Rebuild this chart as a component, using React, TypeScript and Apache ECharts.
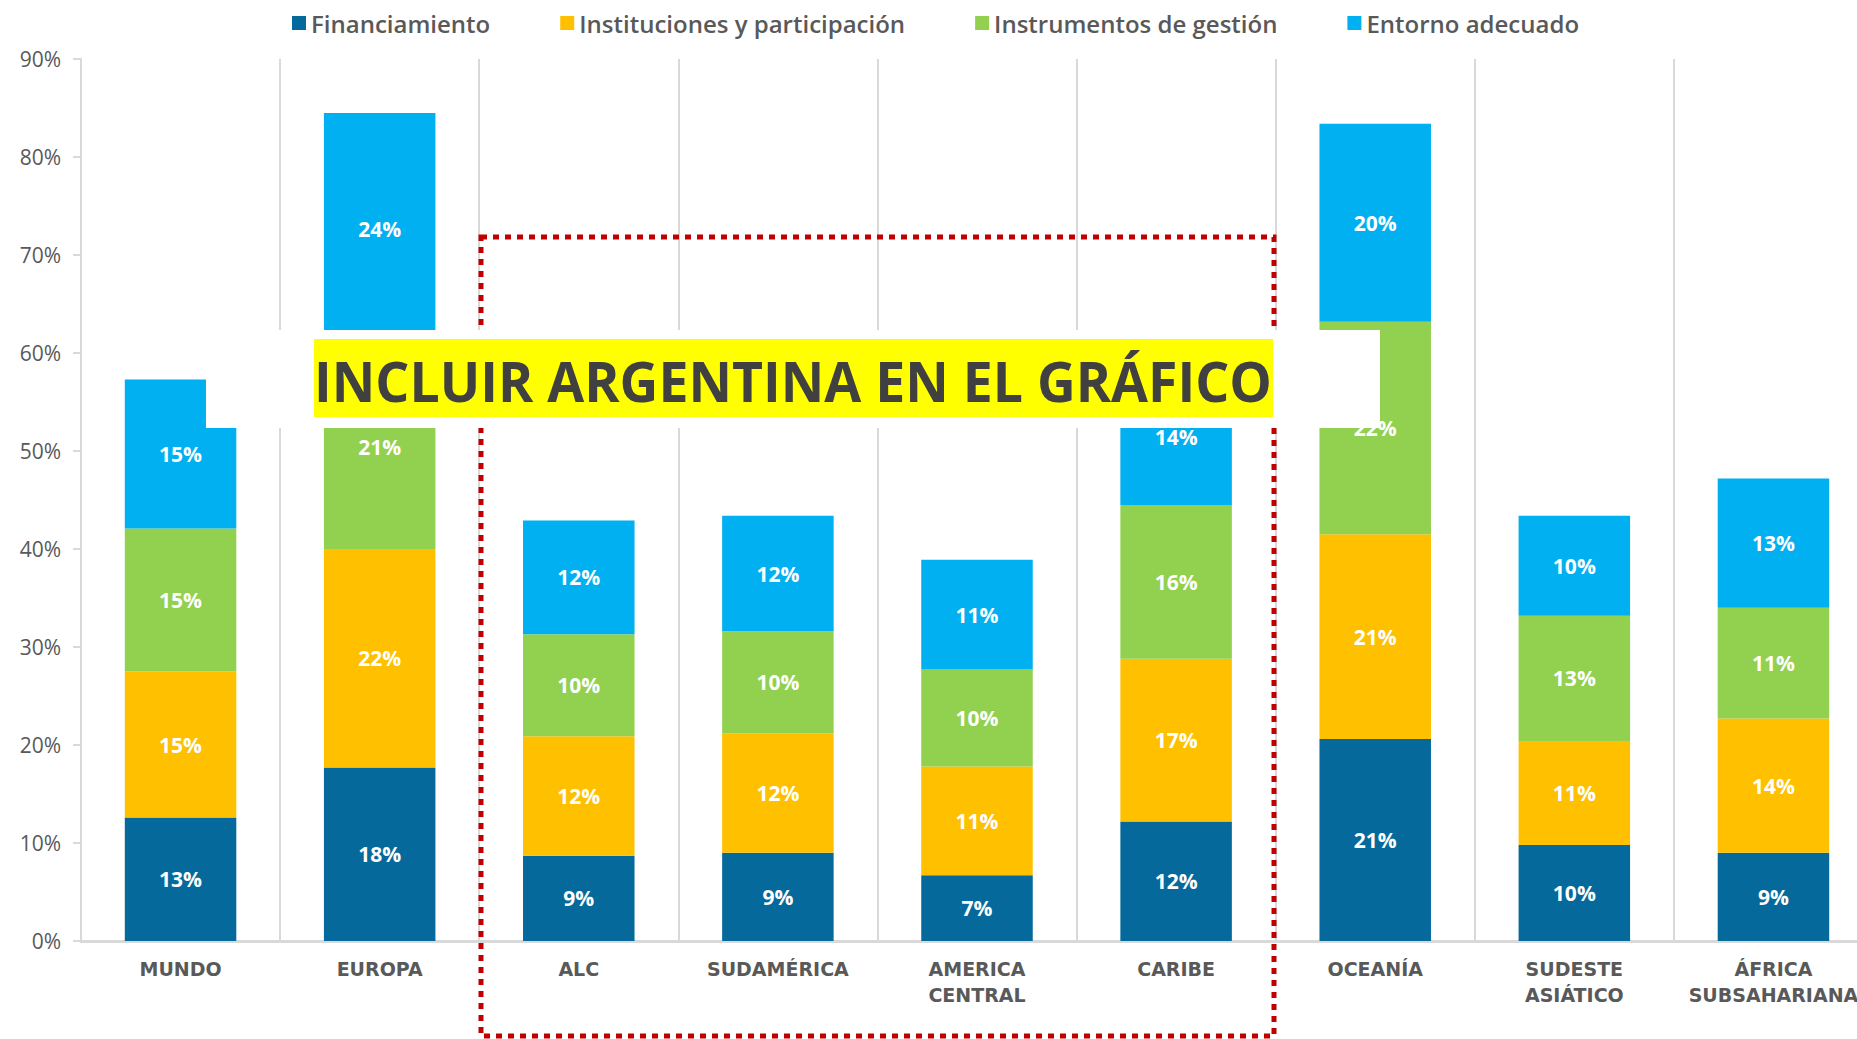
import React, { useEffect, useRef } from "react";
import * as echarts from "echarts";

const categories = [
  "MUNDO",
  "EUROPA",
  "ALC",
  "SUDAMÉRICA",
  "AMERICA CENTRAL",
  "CARIBE",
  "OCEANÍA",
  "SUDESTE ASIÁTICO",
  "ÁFRICA SUBSAHARIANA",
];
const financiamiento = [12.6, 17.7, 8.7, 9.0, 6.7, 12.2, 20.6, 9.8, 9.0];
const instituciones = [14.9, 22.3, 12.2, 12.2, 11.1, 16.6, 20.9, 10.6, 13.7];
const instrumentos = [14.6, 20.9, 10.4, 10.4, 9.9, 15.7, 21.7, 12.8, 11.3];
const entorno = [15.2, 23.6, 11.6, 11.8, 11.2, 13.8, 20.2, 10.2, 13.2];

const seriesNames = [
  "Financiamiento",
  "Instituciones y participación",
  "Instrumentos de gestión",
  "Entorno adecuado",
];
const seriesColors = ["#05699C", "#FFC000", "#92D050", "#00B0F0"];
const seriesData = [financiamiento, instituciones, instrumentos, entorno];

const yMin = 0;
const yMax = 90;
const yInterval = 10;

const bannerText = "INCLUIR ARGENTINA EN EL GRÁFICO";

export default function App() {
  const ref = useRef<HTMLDivElement>(null);

  useEffect(() => {
    document.body.style.margin = "0";
    if (!ref.current) return;
    const chart = echarts.init(ref.current, null, { renderer: "svg" });
    const option = {
      animation: false,
      backgroundColor: "#ffffff",
      legend: {
        data: seriesNames,
        left: 287,
        top: 6,
        icon: "rect",
        itemWidth: 14,
        itemHeight: 14,
        itemGap: 70,
        textStyle: {
          color: "#595959",
          fontSize: 24,
          fontWeight: 600,
          fontFamily: "'Open Sans'",
        },
      },
      grid: {
        left: 81,
        top: 59,
        bottom: 98,
        width: 1792,
        outerBoundsMode: "none",
        containLabel: false,
      },
      xAxis: {
        type: "category",
        data: categories,
        axisLine: { show: true, lineStyle: { color: "#D9D9D9", width: 3 } },
        axisTick: { show: false },
        splitLine: { show: true, lineStyle: { color: "#D9D9D9", width: 2 } },
        axisLabel: {
          interval: 0,
          margin: 15,
          color: "#595959",
          fontFamily: "'DejaVu Sans'",
          fontWeight: "bold",
          fontSize: 19,
          lineHeight: 26,
          formatter: (v: string) => v.replace(" ", "\n"),
        },
      },
      yAxis: {
        type: "value",
        min: yMin,
        max: yMax,
        interval: yInterval,
        axisLine: { show: true, lineStyle: { color: "#D9D9D9", width: 2 } },
        axisTick: { show: true, length: 8, lineStyle: { color: "#D9D9D9", width: 2 } },
        splitLine: { show: false },
        axisLabel: {
          margin: 20,
          color: "#595959",
          fontFamily: "'Open Sans'",
          fontSize: 21,
          formatter: "{value}%",
        },
      },
      series: seriesNames.map((name, i) => ({
        name,
        type: "bar",
        stack: "total",
        barWidth: "56%",
        data: seriesData[i],
        itemStyle: { color: seriesColors[i] },
        label: {
          show: true,
          position: "inside",
          color: "#ffffff",
          fontFamily: "'Open Sans'",
          fontWeight: "bold",
          fontSize: 21,
          formatter: (p: any) => Math.round(p.value) + "%",
        },
      })),
      graphic: [
        {
          type: "rect",
          silent: true,
          z: 100,
          shape: { x: 481, y: 237, width: 793, height: 799 },
          style: { fill: "none", stroke: "#C00000", lineWidth: 5, lineDash: [6, 6] },
        },
        {
          type: "rect",
          silent: true,
          z: 101,
          shape: { x: 206, y: 330, width: 1174, height: 98 },
          style: { fill: "#ffffff" },
        },
        {
          type: "rect",
          silent: true,
          z: 102,
          shape: { x: 314, y: 339, width: 959, height: 78 },
          style: { fill: "#FFFF00" },
        },
        {
          type: "text",
          silent: true,
          z: 103,
          x: 793,
          y: 380,
          scaleX: 0.957,
          style: {
            text: bannerText,
            fontFamily: "'Open Sans'",
            fontWeight: "bold",
            fontSize: 56,
            fill: "#404040",
            align: "center",
            verticalAlign: "middle",
          },
        },
      ],
    };
    chart.setOption(option as any);
    return () => chart.dispose();
  }, []);

  return <div ref={ref} style={{ width: 1857, height: 1039 }} />;
}
